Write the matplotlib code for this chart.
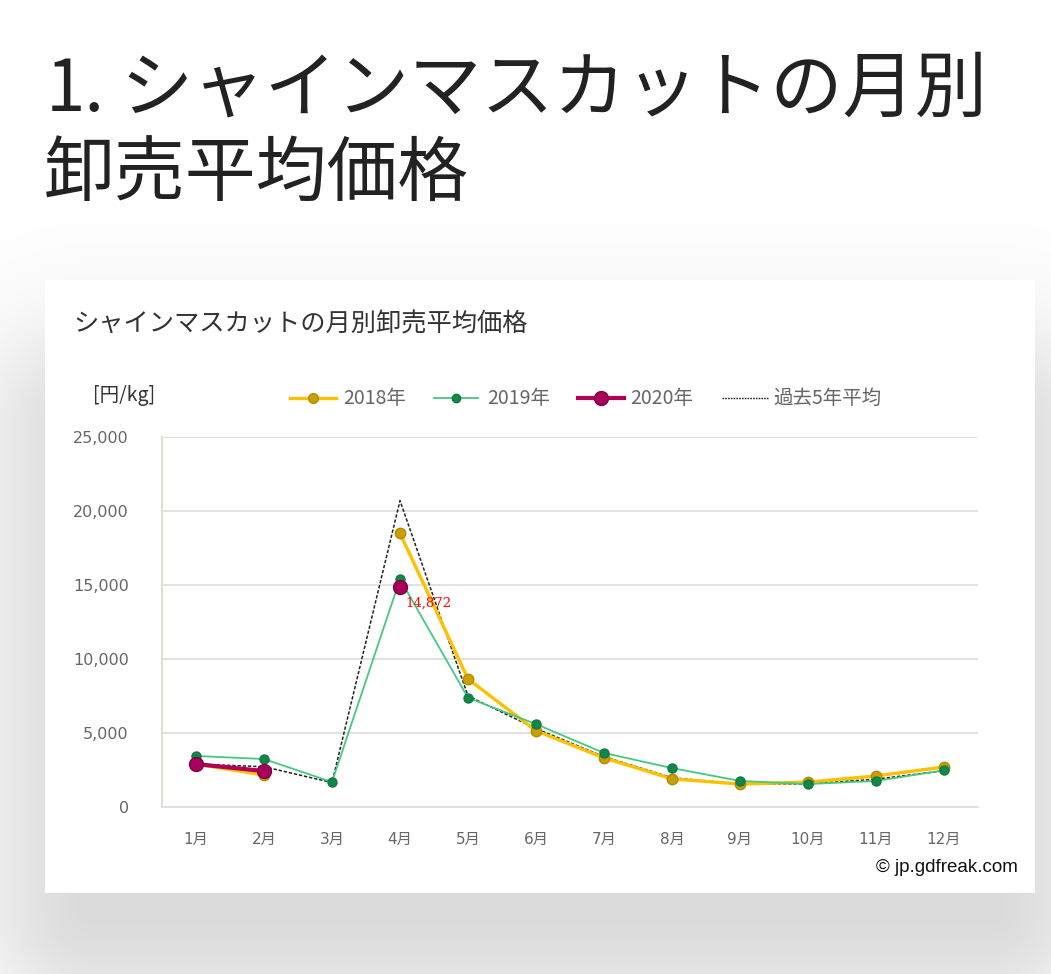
import numpy as np
import matplotlib
matplotlib.use("Agg")
import matplotlib.pyplot as plt
from matplotlib.lines import Line2D
from matplotlib.patches import Rectangle

plt.rcParams['font.family'] = ['Noto Sans CJK JP', 'DejaVu Sans']

months = ["1月", "2月", "3月", "4月", "5月", "6月", "7月", "8月", "9月", "10月", "11月", "12月"]
price_2018 = [2900, 2160, np.nan, 18500, 8650, 5150, 3320, 1900, 1550, 1680, 2100, 2700]
price_2019 = [3450, 3240, 1690, 15400, 7380, 5600, 3650, 2630, 1760, 1550, 1760, 2480]
price_2020 = [2900, 2430, np.nan, 14872, np.nan, np.nan, np.nan, np.nan, np.nan, np.nan, np.nan, np.nan]
avg_5yr = [2900, 2720, 1650, 20700, 7500, 5300, 3400, 1980, 1550, 1560, 1880, 2450]
yticks = [0, 5000, 10000, 15000, 20000, 25000]
legend_labels = ["2018年", "2019年", "2020年", "過去5年平均"]

W, H = 1051, 974
fig = plt.figure(figsize=(W / 100, H / 100), dpi=100)

# page background with soft shadow under the card
bg = fig.add_axes([0, 0, 1, 1])
bg.set_axis_off()
yy, xx = np.mgrid[0:H, 0:W]
sx0, sx1, sy0, sy1 = 90, 990, 430, 910
dx = np.maximum(np.maximum(sx0 - xx, xx - sx1), 0)
dy = np.maximum(np.maximum(sy0 - yy, yy - sy1), 0)
d = np.sqrt(dx ** 2 + dy ** 2)
shade = 0.14 * np.exp(-(d / 110.0) ** 2)
img = 1.0 - shade
bg.imshow(np.dstack([img, img, img]), extent=[0, W, H, 0], aspect='auto')
bg.set_xlim(0, W)
bg.set_ylim(H, 0)
bg.add_patch(Rectangle((45, 280), 990, 613, facecolor='white', edgecolor='none'))

fig.text(46 / W, 1 - 90 / H, "1.", fontsize=51, color='#222222',
         va='center', ha='left')
fig.text(120 / W, 1 - 90 / H, "シャインマスカットの月別", fontsize=52, color='#222222',
         va='center', ha='left')
fig.text(44 / W, 1 - 175 / H, "卸売平均価格", fontsize=51, color='#222222',
         va='center', ha='left')

fig.text(73 / W, 1 - 325 / H, "シャインマスカットの月別卸売平均価格", fontsize=18.2,
         color='#333333', va='center', ha='left')
fig.text(93 / W, 1 - 396 / H, "[円/kg]", fontsize=14, color='#333333', va='center', ha='left')

ax = fig.add_axes([162 / W, 1 - 807 / H, (978 - 162) / W, (807 - 437) / H])
x = np.arange(len(months))

ax.plot(x, avg_5yr, color='#222222', linestyle=(0, (2.2, 1.2)), linewidth=1.1, zorder=2)
ax.plot(x, price_2019, color='#45c97f', linewidth=1.3, marker='o', markersize=6.5,
        markerfacecolor='#12874a', markeredgecolor='#0f7a40', zorder=3)
ax.plot(x, price_2018, color='#ffc000', linewidth=2.4, marker='o', markersize=7.5,
        markerfacecolor='#c9a000', markeredgecolor='#b08c00', zorder=2.5)
ax.plot(x, price_2020, color='#b0005a', linewidth=3, marker='o', markersize=10,
        markerfacecolor='#a8005a', markeredgecolor='#80003f', zorder=4)
ax.text(3.08, price_2020[3] - 650, "14,872", color='red', fontsize=9.5,
        family=['DejaVu Serif'], va='top', ha='left', zorder=5)

ax.set_xlim(-0.5, 11.5)
ax.set_ylim(0, 25000)
ax.set_yticks(yticks)
ax.set_yticklabels([f"{v:,}" for v in yticks], family=['DejaVu Sans'], fontsize=11.5)
ax.set_xticks(x)
ax.set_xticklabels(months, family=['DejaVu Sans', 'Noto Sans CJK JP'], fontsize=11)
ax.yaxis.grid(True, color='#dddddd', linewidth=1.2)
ax.set_axisbelow(True)
for s in ['top', 'right']:
    ax.spines[s].set_visible(False)
ax.spines['left'].set_color('#e2dfd2')
ax.spines['left'].set_linewidth(1.5)
ax.spines['bottom'].set_color('#dddddd')
ax.spines['bottom'].set_linewidth(1.2)
ax.tick_params(length=0, labelcolor='#666666')
ax.tick_params(axis='y', pad=24)
ax.tick_params(axis='x', pad=18)

# legend drawn by hand to match the reference positions
ly = 1 - 398 / H
items = [
    (290, 336, 343, dict(color='#ffc000', linewidth=2.4, marker='o', markersize=7,
                         markerfacecolor='#c9a000', markeredgecolor='#b08c00')),
    (434, 478, 487, dict(color='#45c97f', linewidth=1.3, marker='o', markersize=6,
                         markerfacecolor='#12874a', markeredgecolor='#0f7a40')),
    (578, 624, 630, dict(color='#b0005a', linewidth=3, marker='o', markersize=10,
                         markerfacecolor='#a8005a', markeredgecolor='#80003f')),
    (722, 768, 773, dict(color='#222222', linestyle=(0, (1.2, 0.8)), linewidth=1.0)),
]
for (x0, x1, tx, kw), lab in zip(items, legend_labels):
    fig.add_artist(Line2D([x0 / W, (x0 + x1) / 2 / W, x1 / W], [ly, ly, ly],
                          markevery=[1] if 'marker' in kw else None, **kw))
    fig.text(tx / W, ly, lab, fontsize=14, color='#666666', va='center', ha='left')

fig.text(1018 / W, 1 - 867 / H, "© jp.gdfreak.com", fontsize=13.5, color='#111111',
         family=['Liberation Sans'], va='center', ha='right')

fig.savefig("out.png", dpi=100)
